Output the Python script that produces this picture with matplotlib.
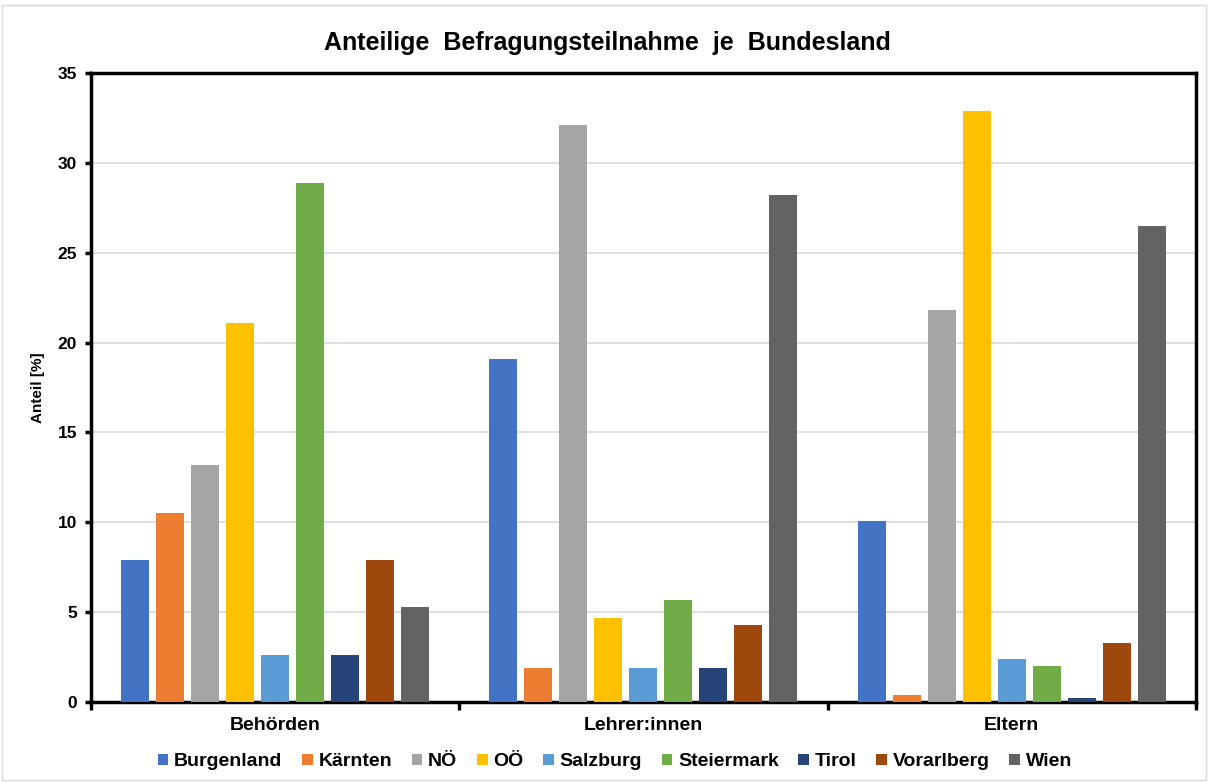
import matplotlib.pyplot as plt
import matplotlib.patches as mpatches
import numpy as np

plt.rcParams['font.family'] = ['Liberation Sans', 'DejaVu Sans']

# Daten
gruppen = ['Behörden', 'Lehrer:innen', 'Eltern']
laender = ['Burgenland', 'Kärnten', 'NÖ', 'OÖ', 'Salzburg', 'Steiermark', 'Tirol', 'Vorarlberg', 'Wien']
burgenland = [7.9, 19.1, 10.1]
kaernten = [10.5, 1.9, 0.4]
noe = [13.2, 32.1, 21.8]
ooe = [21.1, 4.7, 32.9]
salzburg = [2.6, 1.9, 2.4]
steiermark = [28.9, 5.7, 2.0]
tirol = [2.6, 1.9, 0.2]
vorarlberg = [7.9, 4.3, 3.3]
wien = [5.3, 28.2, 26.5]

werte = [burgenland, kaernten, noe, ooe, salzburg, steiermark, tirol, vorarlberg, wien]
farben = ['#4472C4', '#ED7D31', '#A5A5A5', '#FFC000', '#5B9BD5',
          '#70AD47', '#264478', '#9E480E', '#636363']

fig = plt.figure(figsize=(12.08, 7.83), dpi=100)
ax = fig.add_axes([0.0753, 0.1034, 0.9147, 0.8034])

x = np.arange(len(gruppen))
schritt = 0.095
breite = 0.076
for i, (name, v) in enumerate(zip(laender, werte)):
    ax.bar(x + (i - 4) * schritt, v, breite, color=farben[i], label=name, zorder=3)

ax.set_xlim(-0.5, 2.5)
ax.set_ylim(0, 35)
ax.set_yticks(range(0, 36, 5))
ax.grid(axis='y', color='#d9d9d9', linewidth=1.2, zorder=0)

# Kategorie-Beschriftung zwischen den Trennstrichen
ax.set_xticks([-0.5, 0.5, 1.5, 2.5])
ax.set_xticklabels([])
ax.set_xticks(x, minor=True)
ax.set_xticklabels(gruppen, minor=True, fontsize=14, fontweight='bold')
ax.tick_params(axis='x', which='major', length=6, width=2.5, direction='out')
ax.tick_params(axis='x', which='minor', length=0, pad=11)
ax.tick_params(axis='y', length=4, width=2.5, labelsize=12.5, pad=6)
for lab in ax.get_yticklabels():
    lab.set_fontweight('bold')

for s in ax.spines.values():
    s.set_linewidth(2.5)
    s.set_color('black')

ax.set_ylabel('Anteil [%]', fontsize=11, fontweight='bold', labelpad=9)

fig.text(0.503, 0.945, 'Anteilige  Befragungsteilnahme  je  Bundesland',
         ha='center', va='center', fontsize=18, fontweight='bold')

fig.legend(loc='center', bbox_to_anchor=(0.509, 0.027), ncol=9, frameon=False,
           prop={'weight': 'bold', 'size': 14}, handlelength=0.55, handleheight=0.55,
           handletextpad=0.3, columnspacing=1.0)

fig.patches.append(mpatches.Rectangle((0.002, 0.004), 0.996, 0.99, transform=fig.transFigure,
                                      fill=False, edgecolor='#d9d9d9', linewidth=1))

fig.savefig('out.png', dpi=100)
